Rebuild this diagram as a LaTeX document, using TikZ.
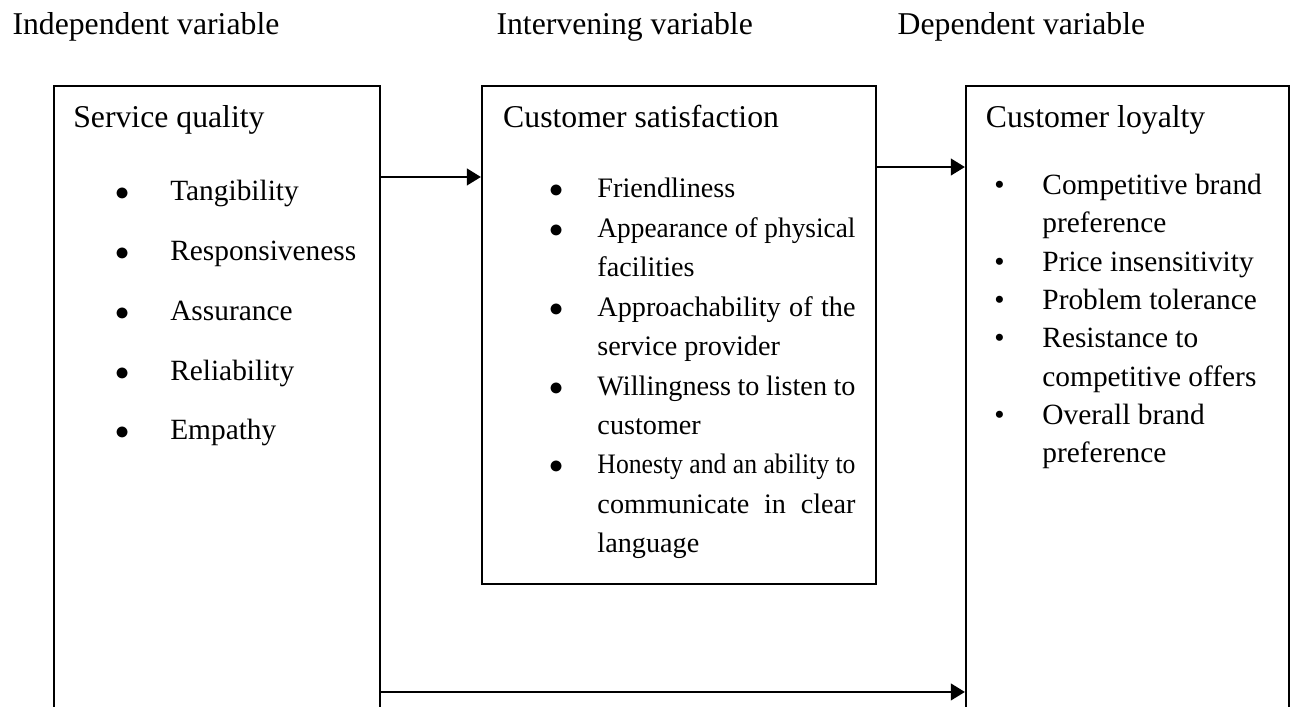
\documentclass[tikz,border=0pt]{standalone}
\usepackage{fontspec}
\setmainfont{Liberation Serif}
\usepackage{graphicx}
\usepackage{tikz}
\usetikzlibrary{arrows.meta}

\newcommand{\spreadline}[1]{\makebox[109.8pt][s]{#1}}
\newcommand{\squeezeline}[1]{\resizebox{109.8pt}{\height}{#1}}

\begin{document}
\begin{tikzpicture}[
  box/.style={draw, line width=0.8pt, anchor=north west, inner sep=0pt},
  heading/.style={anchor=base west, inner sep=0pt, font=\fontsize{13.5}{16}\selectfont},
  list/.style={anchor=base west, inner sep=0pt, align=left},
  arr/.style={-{Triangle[length=6pt,width=7pt]}, line width=1.2pt}
]
  \path[use as bounding box] (0,0) rectangle (19.40,-10.56);
  \clip (0,0) rectangle (19.40,-10.56);

  \node[heading] (IndepVar) at (0.18,-0.52) {Independent variable};
  \node[heading] (InterVar) at (7.42,-0.52) {Intervening variable};
  \node[heading] (DepVar) at (13.42,-0.52) {Dependent variable};

  \node[box, minimum width=4.876cm, minimum height=10cm] (ServiceQuality) at (0.793,-1.271) {};
  \node[box, minimum width=5.893cm, minimum height=7.449cm] (Satisfaction) at (7.194,-1.271) {};
  \node[box, minimum width=4.831cm, minimum height=10cm] (Loyalty) at (14.433,-1.271) {};

  \node[heading] (SqTitle) at (1.09,-1.90) {Service quality};
  \node[heading] (CsTitle) at (7.52,-1.90) {Customer satisfaction};
  \node[heading] (ClTitle) at (14.74,-1.90) {Customer loyalty};

  % lists are placed by the baseline of their last line
  \node[list, font=\fontsize{12.5}{25.5}\selectfont] (SqList) at (2.54,-6.58) {%
    \llap{$\bullet$\hspace{17.4pt}}Tangibility\\
    \llap{$\bullet$\hspace{17.4pt}}Responsiveness\\
    \llap{$\bullet$\hspace{17.4pt}}Assurance\\
    \llap{$\bullet$\hspace{17.4pt}}Reliability\\
    \llap{$\bullet$\hspace{17.4pt}}Empathy};

  \node[list, font=\fontsize{12}{16.8}\selectfont] (CsList) at (8.93,-8.27) {%
    \llap{$\bullet$\hspace{14.4pt}}Friendliness\\
    \llap{$\bullet$\hspace{14.4pt}}\squeezeline{Appearance of physical}\\
    facilities\\
    \llap{$\bullet$\hspace{14.4pt}}\spreadline{Approachability of the}\\
    service provider\\
    \llap{$\bullet$\hspace{14.4pt}}\spreadline{Willingness to listen to}\\
    customer\\
    \llap{$\bullet$\hspace{14.4pt}}\squeezeline{Honesty and an ability to}\\
    \spreadline{communicate in clear}\\
    language};

  \node[list, font=\fontsize{12.5}{16.3}\selectfont] (ClList) at (15.585,-6.92) {%
    \llap{\textbullet\hspace{16.1pt}}Competitive brand\\
    preference\\
    \llap{\textbullet\hspace{16.1pt}}Price insensitivity\\
    \llap{\textbullet\hspace{16.1pt}}Problem tolerance\\
    \llap{\textbullet\hspace{16.1pt}}Resistance to\\
    competitive offers\\
    \llap{\textbullet\hspace{16.1pt}}Overall brand\\
    preference};

  \coordinate (TopRow) at (0,-2.647);
  \coordinate (MidRow) at (0,-2.498);
  \coordinate (LowRow) at (0,-10.35);
  \draw[arr] (ServiceQuality.east |- TopRow) -- (Satisfaction.west |- TopRow);
  \draw[arr] (Satisfaction.east |- MidRow) -- (Loyalty.west |- MidRow);
  \draw[arr] (ServiceQuality.east |- LowRow) -- (Loyalty.west |- LowRow);
\end{tikzpicture}
\end{document}
